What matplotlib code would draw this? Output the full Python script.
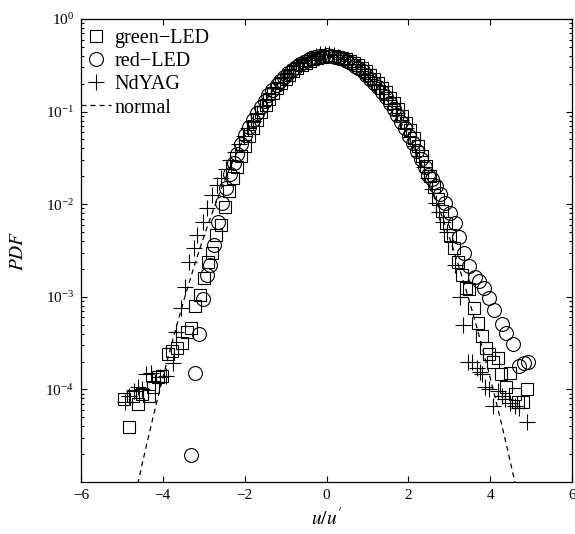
""" PDF of normalised velocity fluctuation, three light sources vs normal """

import matplotlib
matplotlib.use("Agg")
import matplotlib.pyplot as plt, numpy as np
from matplotlib.ticker import FixedLocator, NullFormatter, LogFormatterSciNotation

plt.rcParams['font.family'] = ['Liberation Serif', 'DejaVu Serif']
plt.rcParams['mathtext.fontset'] = 'stix'
plt.rcParams['lines.scale_dashes'] = False

# green-LED histogram (bin centre, pdf)
green_x = [-4.94, -4.82, -4.73, -4.61, -4.50, -4.33, -4.24, -4.12, -4.02, -3.88,
	-3.77, -3.65, -3.53, -3.42, -3.31, -3.21, -3.10, -2.99, -2.90, -2.79,
	-2.69, -2.59, -2.49, -2.38, -2.28, -2.18, -2.08, -1.98, -1.89, -1.79,
	-1.69, -1.59, -1.49, -1.40, -1.30, -1.20, -1.10, -1.00, -0.91, -0.81,
	-0.71, -0.61, -0.51, -0.41, -0.32, -0.22, -0.12, -0.02, 0.08, 0.18,
	0.27, 0.37, 0.47, 0.57, 0.67, 0.77, 0.86, 0.96, 1.06, 1.16,
	1.26, 1.36, 1.45, 1.55, 1.65, 1.75, 1.85, 1.94, 2.04, 2.14,
	2.24, 2.34, 2.44, 2.53, 2.63, 2.73, 2.83, 2.93, 3.03, 3.12,
	3.22, 3.31, 3.40, 3.49, 3.60, 3.70, 3.81, 3.89, 3.98, 4.08,
	4.19, 4.27, 4.39, 4.48, 4.61, 4.68, 4.80, 4.90]
green_pdf = [7.8e-5, 3.9e-5, 8.5e-5, 6.9e-5, 9.0e-5, 8.5e-5, 1.05e-4, 1.35e-4, 1.38e-4, 2.4e-4,
	2.6e-4, 2.8e-4, 3.2e-4, 4.2e-4, 4.6e-4, 7.9e-4, 1.05e-3, 1.6e-3, 2.4e-3, 3.0e-3,
	4.6e-3, 6.0e-3, 9.3e-3, 0.014, 0.019, 0.025, 0.033, 0.043, 0.054, 0.067,
	0.082, 0.099, 0.118, 0.137, 0.158, 0.180, 0.203, 0.226, 0.249, 0.272,
	0.294, 0.316, 0.336, 0.354, 0.370, 0.383, 0.393, 0.399, 0.401, 0.399,
	0.392, 0.382, 0.369, 0.353, 0.335, 0.315, 0.294, 0.272, 0.249, 0.226,
	0.204, 0.182, 0.161, 0.141, 0.123, 0.106, 0.090, 0.076, 0.063, 0.052,
	0.042, 0.033, 0.026, 0.020, 0.0152, 0.0114, 0.0085, 0.0063, 0.0046, 0.0034,
	0.0024, 0.0017, 1.26e-3, 1.20e-3, 7.6e-4, 5.2e-4, 3.8e-4, 2.8e-4, 2.4e-4, 2.0e-4,
	2.2e-4, 1.45e-4, 1.05e-4, 1.5e-4, 8.9e-5, 7.4e-5, 7.4e-5, 1.02e-4]

# red-LED histogram
red_x = [-3.30, -3.21, -3.12, -3.02, -2.93, -2.84, -2.74, -2.65, -2.56, -2.46,
	-2.37, -2.27, -2.18, -2.08, -1.98, -1.89, -1.80, -1.70, -1.61, -1.51,
	-1.42, -1.32, -1.22, -1.13, -1.03, -0.94, -0.84, -0.75, -0.65, -0.56,
	-0.46, -0.37, -0.27, -0.17, -0.08, 0.02, 0.11, 0.21, 0.30, 0.40,
	0.49, 0.59, 0.69, 0.78, 0.88, 0.97, 1.07, 1.16, 1.26, 1.35,
	1.45, 1.54, 1.64, 1.73, 1.83, 1.92, 2.02, 2.11, 2.21, 2.30,
	2.40, 2.49, 2.58, 2.67, 2.78, 2.90, 3.02, 3.13, 3.25, 3.37,
	3.48, 3.62, 3.72, 3.85, 3.98, 4.10, 4.30, 4.38, 4.55, 4.70,
	4.82, 4.92]
red_pdf = [1.95e-5, 1.5e-4, 4.0e-4, 9.5e-4, 1.7e-3, 2.2e-3, 3.6e-3, 6.5e-3, 0.0103, 0.015,
	0.021, 0.028, 0.035, 0.045, 0.056, 0.068, 0.081, 0.097, 0.113, 0.131,
	0.150, 0.170, 0.192, 0.213, 0.236, 0.259, 0.282, 0.304, 0.324, 0.343,
	0.360, 0.375, 0.388, 0.397, 0.403, 0.404, 0.400, 0.392, 0.381, 0.367,
	0.352, 0.334, 0.314, 0.294, 0.272, 0.250, 0.227, 0.205, 0.183, 0.162,
	0.142, 0.124, 0.107, 0.092, 0.078, 0.066, 0.055, 0.046, 0.038, 0.031,
	0.025, 0.0205, 0.0185, 0.0158, 0.0129, 0.0102, 0.0081, 0.0063, 0.0044, 0.0030,
	2.14e-3, 1.62e-3, 1.48e-3, 1.26e-3, 9.8e-4, 7.2e-4, 5.1e-4, 4.1e-4, 3.1e-4, 1.78e-4,
	1.91e-4, 2.0e-4]

# Nd:YAG histogram
yag_x = [-4.93, -4.82, -4.71, -4.60, -4.50, -4.40, -4.30, -4.19, -4.08, -3.92,
	-3.76, -3.68, -3.55, -3.45, -3.36, -3.24, -3.16, -3.03, -2.92, -2.80,
	-2.68, -2.57, -2.46, -2.35, -2.24, -2.13, -2.02, -1.91, -1.80, -1.69,
	-1.58, -1.47, -1.36, -1.25, -1.14, -1.03, -0.92, -0.81, -0.70, -0.59,
	-0.48, -0.37, -0.26, -0.15, -0.04, 0.07, 0.18, 0.29, 0.40, 0.51,
	0.62, 0.73, 0.84, 0.95, 1.06, 1.17, 1.28, 1.39, 1.50, 1.61,
	1.72, 1.83, 1.94, 2.05, 2.16, 2.27, 2.38, 2.49, 2.58, 2.67,
	2.76, 2.85, 2.95, 3.06, 3.14, 3.26, 3.34, 3.46, 3.56, 3.68,
	3.75, 3.81, 3.88, 3.98, 4.07, 4.19, 4.28, 4.37, 4.48, 4.61,
	4.70, 4.90]
yag_pdf = [7.4e-5, 8.5e-5, 9.5e-5, 1.05e-4, 1.0e-4, 1.45e-4, 1.5e-4, 1.2e-4, 1.35e-4, 1.38e-4,
	1.95e-4, 4.2e-4, 7.6e-4, 1.29e-3, 2.4e-3, 3.4e-3, 4.7e-3, 6.5e-3, 9.0e-3, 0.0125,
	0.016, 0.019, 0.024, 0.030, 0.037, 0.045, 0.054, 0.066, 0.080, 0.096,
	0.114, 0.134, 0.156, 0.180, 0.204, 0.229, 0.256, 0.283, 0.310, 0.336,
	0.360, 0.382, 0.400, 0.414, 0.421, 0.418, 0.408, 0.392, 0.372, 0.350,
	0.327, 0.302, 0.277, 0.251, 0.226, 0.201, 0.177, 0.154, 0.133, 0.114,
	0.097, 0.081, 0.066, 0.053, 0.042, 0.033, 0.025, 0.019, 0.0145, 0.0102,
	0.0082, 0.0065, 0.0050, 0.0039, 0.0022, 1.0e-3, 5.0e-4, 2.0e-4, 2.0e-4, 1.7e-4,
	1.55e-4, 1.45e-4, 1.05e-4, 1.0e-4, 6.6e-5, 9.5e-5, 8.5e-5, 7.8e-5, 7.2e-5, 6.6e-5,
	6.3e-5, 4.5e-5]

# reference gaussian
mu, sigma = 0.0, 1.0

fig = plt.figure(figsize=(5.75, 5.34), dpi=100)
ax = fig.add_axes([81/575., 1-482/534., 491/575., 463/534.])

mk = dict(linestyle='none', color='k', mfc='none', mew=0.8)
ax.plot(green_x, green_pdf, marker='s', ms=8.5, label=u'green\u2212LED', **mk)
ax.plot(red_x, red_pdf, marker='o', ms=10, label=u'red\u2212LED', **mk)
ax.plot(yag_x, yag_pdf, marker='+', ms=11, label='NdYAG', **mk)

xn = np.linspace(-4.8, 4.8, 500)
pn = np.exp(-0.5*((xn-mu)/sigma)**2)/(sigma*np.sqrt(2*np.pi))
ax.plot(xn, pn, color='k', lw=0.9, dashes=(3.6, 2.9), label='normal')

ax.set_yscale('log')
ax.set_xlim(-6, 6)
ax.set_ylim(1e-5, 1)
ax.set_xticks([-6, -4, -2, 0, 2, 4, 6])
ax.yaxis.set_major_locator(FixedLocator([1e-4, 1e-3, 1e-2, 1e-1, 1e0]))
ax.yaxis.set_major_formatter(LogFormatterSciNotation())
minors = [m*10.0**e for e in range(-5, 0) for m in range(2, 10)]
ax.yaxis.set_minor_locator(FixedLocator(minors))
ax.yaxis.set_minor_formatter(NullFormatter())

ax.tick_params(which='both', direction='in', top=True, right=True, labelsize=11, width=0.8)
ax.tick_params(which='major', length=4.5, pad=5)
ax.tick_params(which='minor', length=2.5)
for s in ax.spines.values():
	s.set_linewidth(0.9)

ax.set_xlabel(r"$u/u'$", fontsize=14, labelpad=4)
ax.set_ylabel(r"$PDF$", fontsize=14, labelpad=13)

# legend hugs the left spine, dashed handle starts right at it
ax.legend(loc='upper left', bbox_to_anchor=(-10/491., 1), frameon=False, fontsize=14.5,
	numpoints=1, handlelength=1.5, handletextpad=0.15, labelspacing=0.2,
	borderaxespad=0.0, borderpad=0.5)

plt.savefig('out.png', dpi=100)
